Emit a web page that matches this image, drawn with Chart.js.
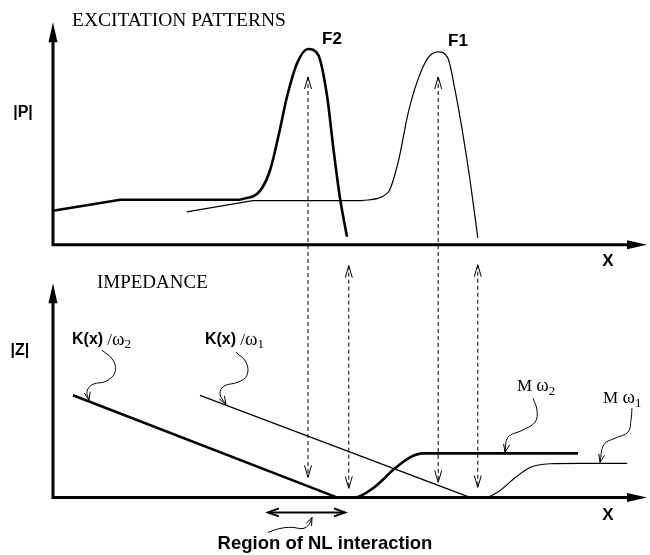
<!DOCTYPE html>
<html>
<head>
<meta charset="utf-8">
<script src="https://cdn.jsdelivr.net/npm/chart.js@4.4.0/dist/chart.umd.min.js"></script>
<style>
  html, body { margin: 0; padding: 0; background: #fff; }
  #wrap { width: 650px; height: 555px; position: relative; }
</style>
</head>
<body>
<div id="wrap"><canvas id="chart"></canvas></div>
<script>
// x: position along the axis (0 = origin, 99 = arrow tip)
// top panel in |P| units, bottom panel in |Z| units

// Excitation pattern F2 (thick): shoulder, then the peak
const f2BaseX = [0, 11.2, 31.2];
const f2BaseP = [1.53, 2.02, 2.02];
const f2PeakX = [31.2, 34.5, 36.2, 37.8, 39.0, 40.7, 42.5, 44.2, 45.7, 46.7, 47.8, 49.0];
const f2PeakP = [2.02, 2.42, 3.37, 5.16, 6.65, 8.17, 8.80, 8.53, 6.65, 4.40, 2.16, 0.36];

// Excitation pattern F1 (thin)
const f1BaseX = [22.3, 33.3, 51.5];
const f1BaseP = [1.48, 1.98, 1.98];
const f1PeakX = [51.5, 55.8, 57.5, 59.2, 60.8, 62.5, 64.2, 65.8, 67.0, 68.2, 69.5, 70.8];
const f1PeakP = [1.98, 2.33, 3.68, 5.93, 7.41, 8.40, 8.67, 8.40, 6.96, 5.16, 2.92, 0.31];

// Impedance: stiffness lines K(x)/w and mass plateaus M w
const kw2X = [3.33, 47.3];
const kw2Z = [4.43, 0];
const mw2X = [47.3, 50.3, 53.3, 57.0, 59.5, 61.7, 87.5];
const mw2Z = [0, 0, 0.39, 1.26, 1.74, 1.91, 1.91];
const kw1X = [24.5, 69.5];
const kw1Z = [4.43, 0];
const mw1X = [69.5, 72.0, 74.5, 77.0, 79.5, 82.8, 87.8, 95.7];
const mw1Z = [0, 0, 0.30, 0.85, 1.30, 1.46, 1.48, 1.48];

// dashed double arrows linking both panels
const arrowX = [42.5, 49.3, 64.2, 70.8];
const arrowTopP = [7.54, -0.94, 7.54, -0.90];
const arrowBottomZ = [0.87, 0.39, 0.65, 0.43];

// axis arrow tips
const axisTipX = 99;
const axisTipP = 10;
const axisTipZ = 9.3;

// curly label leaders (bottom panel)
const leadKw2X = [8.17, 10.0, 10.33, 8.83, 6.67, 5.67, 6.0];
const leadKw2Z = [6.39, 5.96, 5.43, 5.04, 4.91, 4.61, 4.22];
const leadKw1X = [30.5, 32.17, 32.33, 30.83, 28.5, 27.83, 28.83];
const leadKw1Z = [6.30, 5.87, 5.30, 5.00, 4.83, 4.48, 4.04];
const leadMw2X = [80.0, 80.67, 80.33, 78.17, 75.83, 75.33];
const leadMw2Z = [4.30, 3.78, 3.26, 2.91, 2.61, 1.96];
const leadMw1X = [96.5, 96.33, 95.83, 93.67, 91.83, 91.17];
const leadMw1Z = [3.87, 3.35, 2.83, 2.57, 2.30, 1.52];
const leadNlX = [35.83, 37.83, 39.83, 41.67, 42.67, 43.17];
const leadNlZ = [-1.52, -1.35, -1.30, -1.35, -1.17, -0.87];

// region of nonlinear interaction
const nlFromX = 35.83;
const nlToX = 48.67;
const nlZ = -0.65;

const SANS = '"Liberation Sans", Arial, Helvetica, sans-serif';
const SERIF = '"Liberation Serif", "Times New Roman", Times, serif';

const labels = [
    { axis: 'yP', x: 3.17, y: 10.06, align: 'left', runs: [['EXCITATION PATTERNS', '19.5px ' + SERIF]] },
    { axis: 'yP', x: -5.0, y: 5.93, align: 'center', runs: [['|P|', 'bold 16px ' + SANS]] },
    { axis: 'yP', x: 46.5, y: 9.25, align: 'center', runs: [['F2', 'bold 17px ' + SANS]] },
    { axis: 'yP', x: 67.5, y: 9.16, align: 'center', runs: [['F1', 'bold 17px ' + SANS]] },
    { axis: 'yP', x: 92.5, y: -0.76, align: 'center', runs: [['X', 'bold 17px ' + SANS]] },
    { axis: 'yZ', x: 7.33, y: 9.30, align: 'left', runs: [['IMPEDANCE', '19px ' + SERIF]] },
    { axis: 'yZ', x: -5.5, y: 6.39, align: 'center', runs: [['|Z|', 'bold 16px ' + SANS]] },
    { axis: 'yZ', x: 3.17, y: 6.83, align: 'left',
      runs: [['K(x)', 'bold 16px ' + SANS], [' /', '17px ' + SERIF], ['\u03c9', '19px ' + SERIF], ['2', '13px ' + SERIF, 5]] },
    { axis: 'yZ', x: 25.33, y: 6.83, align: 'left',
      runs: [['K(x)', 'bold 16px ' + SANS], [' /', '17px ' + SERIF], ['\u03c9', '19px ' + SERIF], ['1', '13px ' + SERIF, 5]] },
    { axis: 'yZ', x: 77.33, y: 4.83, align: 'left',
      runs: [['M ', '17px ' + SERIF], ['\u03c9', '19px ' + SERIF], ['2', '13px ' + SERIF, 5]] },
    { axis: 'yZ', x: 91.67, y: 4.30, align: 'left',
      runs: [['M ', '17px ' + SERIF], ['\u03c9', '19px ' + SERIF], ['1', '13px ' + SERIF, 5]] },
    { axis: 'yZ', x: 92.5, y: -0.78, align: 'center', runs: [['X', 'bold 17px ' + SANS]] },
    { axis: 'yZ', x: 45.33, y: -2.04, align: 'center', runs: [['Region of NL interaction', 'bold 18.5px ' + SANS]] }
];

function series(xs, ys, axis, width, extra) {
    return Object.assign({
        data: xs.map((x, i) => ({ x: x, y: ys[i] })),
        yAxisID: axis,
        showLine: true,
        borderColor: '#000',
        borderWidth: width,
        pointRadius: 0,
        pointHoverRadius: 0,
        fill: false
    }, extra || {});
}

const MONO = { cubicInterpolationMode: 'monotone' };
const LEADER = { tension: 0.4, leader: true };

// open or filled arrow head; (dx, dy) = direction of travel
function arrowHead(ctx, tipX, tipY, dx, dy, len, half, filled) {
    const n = Math.hypot(dx, dy) || 1;
    const ux = dx / n, uy = dy / n;
    const bx = tipX - ux * len, by = tipY - uy * len;
    const px = -uy * half, py = ux * half;
    ctx.beginPath();
    ctx.moveTo(bx + px, by + py);
    ctx.lineTo(tipX, tipY);
    ctx.lineTo(bx - px, by - py);
    if (filled) {
        ctx.closePath();
        ctx.fill();
    } else {
        ctx.stroke();
    }
}

const diagramPlugin = {
    id: 'diagram',
    afterDatasetsDraw(chart) {
        const ctx = chart.ctx;
        const xs = chart.scales.x;
        const scales = { yP: chart.scales.yP, yZ: chart.scales.yZ };
        ctx.save();
        ctx.strokeStyle = '#000';
        ctx.fillStyle = '#000';
        ctx.lineCap = 'butt';

        // axes with arrows
        [[scales.yP, axisTipP], [scales.yZ, axisTipZ]].forEach(([ys, tip]) => {
            const ox = xs.getPixelForValue(0), oy = ys.getPixelForValue(0);
            const tx = xs.getPixelForValue(axisTipX), ty = ys.getPixelForValue(tip);
            ctx.lineWidth = 3;
            ctx.setLineDash([]);
            ctx.beginPath();
            ctx.moveTo(ox, ty + 12);
            ctx.lineTo(ox, oy);
            ctx.lineTo(tx - 12, oy);
            ctx.stroke();
            arrowHead(ctx, ox, ty, 0, -1, 20, 4.5, true);
            arrowHead(ctx, tx, oy, 1, 0, 20, 4.5, true);
        });

        // dashed double arrows between the panels
        ctx.lineWidth = 1;
        arrowX.forEach((v, i) => {
            const px = xs.getPixelForValue(v);
            const top = scales.yP.getPixelForValue(arrowTopP[i]);
            const bot = scales.yZ.getPixelForValue(arrowBottomZ[i]);
            ctx.setLineDash([4, 3]);
            ctx.beginPath();
            ctx.moveTo(px, top);
            ctx.lineTo(px, bot);
            ctx.stroke();
            ctx.setLineDash([]);
            arrowHead(ctx, px, top, 0, -1, 12, 3.5, false);
            arrowHead(ctx, px, bot, 0, 1, 12, 3.5, false);
        });

        // heads on the curly leaders
        ctx.lineWidth = 1;
        chart.data.datasets.forEach((ds, i) => {
            if (!ds.leader) return;
            const pts = chart.getDatasetMeta(i).data;
            const last = pts[pts.length - 1], prev = pts[pts.length - 2];
            arrowHead(ctx, last.x, last.y, last.x - prev.x, last.y - prev.y, 8, 3, false);
        });

        // region of NL interaction
        const ny = scales.yZ.getPixelForValue(nlZ);
        const n1 = xs.getPixelForValue(nlFromX), n2 = xs.getPixelForValue(nlToX);
        ctx.lineWidth = 2;
        ctx.beginPath();
        ctx.moveTo(n1, ny);
        ctx.lineTo(n2, ny);
        ctx.stroke();
        arrowHead(ctx, n1, ny, -1, 0, 11, 4, false);
        arrowHead(ctx, n2, ny, 1, 0, 11, 4, false);

        // text
        ctx.textBaseline = 'middle';
        ctx.textAlign = 'left';
        labels.forEach(lb => {
            let total = 0;
            lb.runs.forEach(r => { ctx.font = r[1]; total += ctx.measureText(r[0]).width; });
            let cx = xs.getPixelForValue(lb.x);
            const cy = scales[lb.axis].getPixelForValue(lb.y);
            if (lb.align === 'center') cx -= total / 2;
            lb.runs.forEach(r => {
                ctx.font = r[1];
                ctx.fillText(r[0], cx, cy + (r[2] || 0));
                cx += ctx.measureText(r[0]).width;
            });
        });
        ctx.restore();
    }
};

new Chart(document.getElementById('chart'), {
    type: 'scatter',
    data: {
        datasets: [
            series(f2BaseX, f2BaseP, 'yP', 2.6),
            series(f2PeakX, f2PeakP, 'yP', 2.6, MONO),
            series(f1BaseX, f1BaseP, 'yP', 1.2),
            series(f1PeakX, f1PeakP, 'yP', 1.2, MONO),
            series(kw2X, kw2Z, 'yZ', 2.6),
            series(mw2X, mw2Z, 'yZ', 2.6, MONO),
            series(kw1X, kw1Z, 'yZ', 1.2),
            series(mw1X, mw1Z, 'yZ', 1.2, MONO),
            series(leadKw2X, leadKw2Z, 'yZ', 1, LEADER),
            series(leadKw1X, leadKw1Z, 'yZ', 1, LEADER),
            series(leadMw2X, leadMw2Z, 'yZ', 1, LEADER),
            series(leadMw1X, leadMw1Z, 'yZ', 1, LEADER),
            series(leadNlX, leadNlZ, 'yZ', 1, LEADER)
        ]
    },
    options: {
        responsive: true,
        maintainAspectRatio: false,
        animation: false,
        layout: { padding: 0, autoPadding: false },
        plugins: {
            legend: { display: false },
            tooltip: { enabled: false }
        },
        scales: {
            x: { type: 'linear', display: false, min: -8.83, max: 99.5 },
            yZ: { type: 'linear', position: 'left', display: false, stack: 'panels', stackWeight: 288, min: -2.5, max: 10 },
            yP: { type: 'linear', position: 'left', display: false, stack: 'panels', stackWeight: 267, min: -1, max: 11 }
        }
    },
    plugins: [diagramPlugin]
});
</script>
</body>
</html>
